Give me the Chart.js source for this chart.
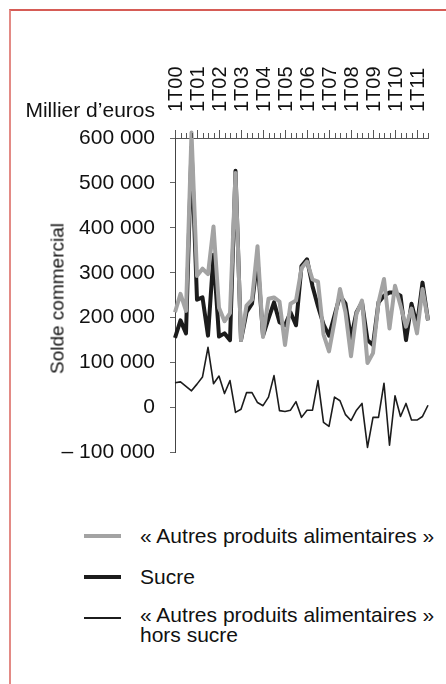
<!DOCTYPE html>
<html><head><meta charset="utf-8">
<script src="https://cdn.jsdelivr.net/npm/chart.js@4.4.0/dist/chart.umd.min.js"></script>
<style>
html,body{margin:0;padding:0;background:#fff;width:446px;height:684px;overflow:hidden;font-family:'Liberation Sans',Arial,sans-serif;color:#111;}
#frame{position:absolute;left:9px;top:9px;width:445px;height:680px;border-top:2px solid #d65c56;border-left:2px solid #e38a85;box-sizing:border-box;}
#wrap{position:absolute;left:0;top:0;width:446px;height:480px;}
.txt{position:absolute;white-space:nowrap;}
.sw{position:absolute;left:84px;width:37px;}
</style></head><body>
<div id="frame"></div>
<div id="wrap"><canvas id="c" width="446" height="480"></canvas></div>
<div class="txt" style="right:291px;top:99px;font-size:21px;line-height:21px;">Millier d’euros</div>
<div class="txt" style="left:-43px;top:289px;width:200px;text-align:center;font-size:19px;line-height:19px;transform:rotate(-90deg);">Solde commercial</div>

<div class="sw" style="top:534px;height:4px;background:#a3a3a3;"></div>
<div class="txt" style="left:140px;top:525px;font-size:21px;line-height:21px;">« Autres produits alimentaires »</div>
<div class="sw" style="top:575px;height:4px;background:#1c1c1c;"></div>
<div class="txt" style="left:140px;top:566px;font-size:21px;line-height:21px;">Sucre</div>
<div class="sw" style="top:617px;height:1.6px;background:#1c1c1c;"></div>
<div class="txt" style="left:140px;top:605px;font-size:21px;line-height:20px;">« Autres produits alimentaires »<br>hors sucre</div>

<script>
// ---- data ----
const quarters = [
 '1T00','2T00','3T00','4T00','1T01','2T01','3T01','4T01','1T02','2T02','3T02','4T02',
 '1T03','2T03','3T03','4T03','1T04','2T04','3T04','4T04','1T05','2T05','3T05','4T05',
 '1T06','2T06','3T06','4T06','1T07','2T07','3T07','4T07','1T08','2T08','3T08','4T08',
 '1T09','2T09','3T09','4T09','1T10','2T10','3T10','4T10','1T11','2T11','3T11'];
const xTickLabels = ['1T00','1T01','1T02','1T03','1T04','1T05','1T06','1T07','1T08','1T09','1T10','1T11'];
const yTicks = [-100000,0,100000,200000,300000,400000,500000,600000];
const yTickLabels = ['– 100 000','0','100 000','200 000','300 000','400 000','500 000','600 000'];
// values in thousand euros
const autresProduits = [212,253,215,612,293,309,297,403,222,192,210,522,150,227,240,359,157,242,245,236,139,231,238,310,325,285,280,163,125,191,264,212,114,209,238,99,121,234,286,176,271,227,180,220,165,264,194];
const sucre = [155,194,165,580,240,245,160,340,158,165,150,527,150,212,231,330,160,198,234,190,183,212,183,315,330,270,225,185,160,205,249,231,154,212,234,150,139,234,249,256,256,249,150,231,183,278,194];
const horsSucre = [55,57,47,37,52,68,134,53,70,31,60,-11,-4,33,33,11,4,23,71,-7,-9,-6,13,-22,-6,-6,60,-33,-42,23,15,-16,-29,-6,9,-89,-22,-22,54,-84,26,-20,9,-28,-28,-20,5];
const seriesNames = ['« Autres produits alimentaires »','Sucre','« Autres produits alimentaires » hors sucre'];

const k = v => v * 1000;

const minorTicks = {
  id: 'minorTicks',
  afterDraw(chart) {
    const xs = chart.scales.x, ctx = chart.ctx;
    const base = chart.chartArea.top;
    ctx.save();
    ctx.strokeStyle = '#555';
    ctx.lineWidth = 1;
    for (let i = 0; i < quarters.length; i++) {
      if (xTickLabels.includes(quarters[i])) continue;
      const px = Math.round(xs.getPixelForValue(i)) + 0.5;
      ctx.beginPath();
      ctx.moveTo(px, base);
      ctx.lineTo(px, base - 5);
      ctx.stroke();
    }
    ctx.restore();
  }
};

new Chart(document.getElementById('c'), {
  type: 'line',
  data: {
    labels: quarters,
    datasets: [
      {label: seriesNames[0], data: autresProduits.map(k), borderColor: '#a3a3a3', borderWidth: 4, clip: false},
      {label: seriesNames[1], data: sucre.map(k), borderColor: '#1c1c1c', borderWidth: 4, clip: false},
      {label: seriesNames[2], data: horsSucre.map(k), borderColor: '#1c1c1c', borderWidth: 1.6, clip: false}
    ]
  },
  options: {
    responsive: false,
    animation: false,
    layout: {padding: {left: 0, top: 0, right: 18, bottom: 22.6}},
    elements: {point: {radius: 0}, line: {tension: 0, borderJoinStyle: 'round', fill: false}},
    plugins: {legend: {display: false}, tooltip: {enabled: false}},
    scales: {
      x: {
        type: 'category',
        position: 'top',
        offset: false,
        afterFit(s) { s.height = 138; },
        border: {display: true, color: '#555', width: 1},
        grid: {
          drawOnChartArea: false, tickLength: 8,
          color: c => xTickLabels.includes(quarters[c.index]) ? '#555' : 'rgba(0,0,0,0)'
        },
        ticks: {
          autoSkip: false, minRotation: 90, maxRotation: 90, padding: 18, labelOffset: 25,
          color: '#111', font: {family: 'Liberation Sans', size: 20},
          callback: (v, i) => xTickLabels.includes(quarters[i]) ? quarters[i] : ''
        }
      },
      y: {
        min: -100000, max: 600000,
        afterFit(s) { s.width = 175; },
        afterBuildTicks(s) { s.ticks = yTicks.map(v => ({value: v})); },
        border: {display: true, color: '#444', width: 1},
        grid: {drawOnChartArea: false, tickLength: 5, color: '#666'},
        ticks: {
          padding: 15, color: '#111', font: {family: 'Liberation Sans', size: 21},
          callback: v => yTickLabels[yTicks.indexOf(v)]
        }
      }
    }
  },
  plugins: [minorTicks]
});
</script>
</body></html>
